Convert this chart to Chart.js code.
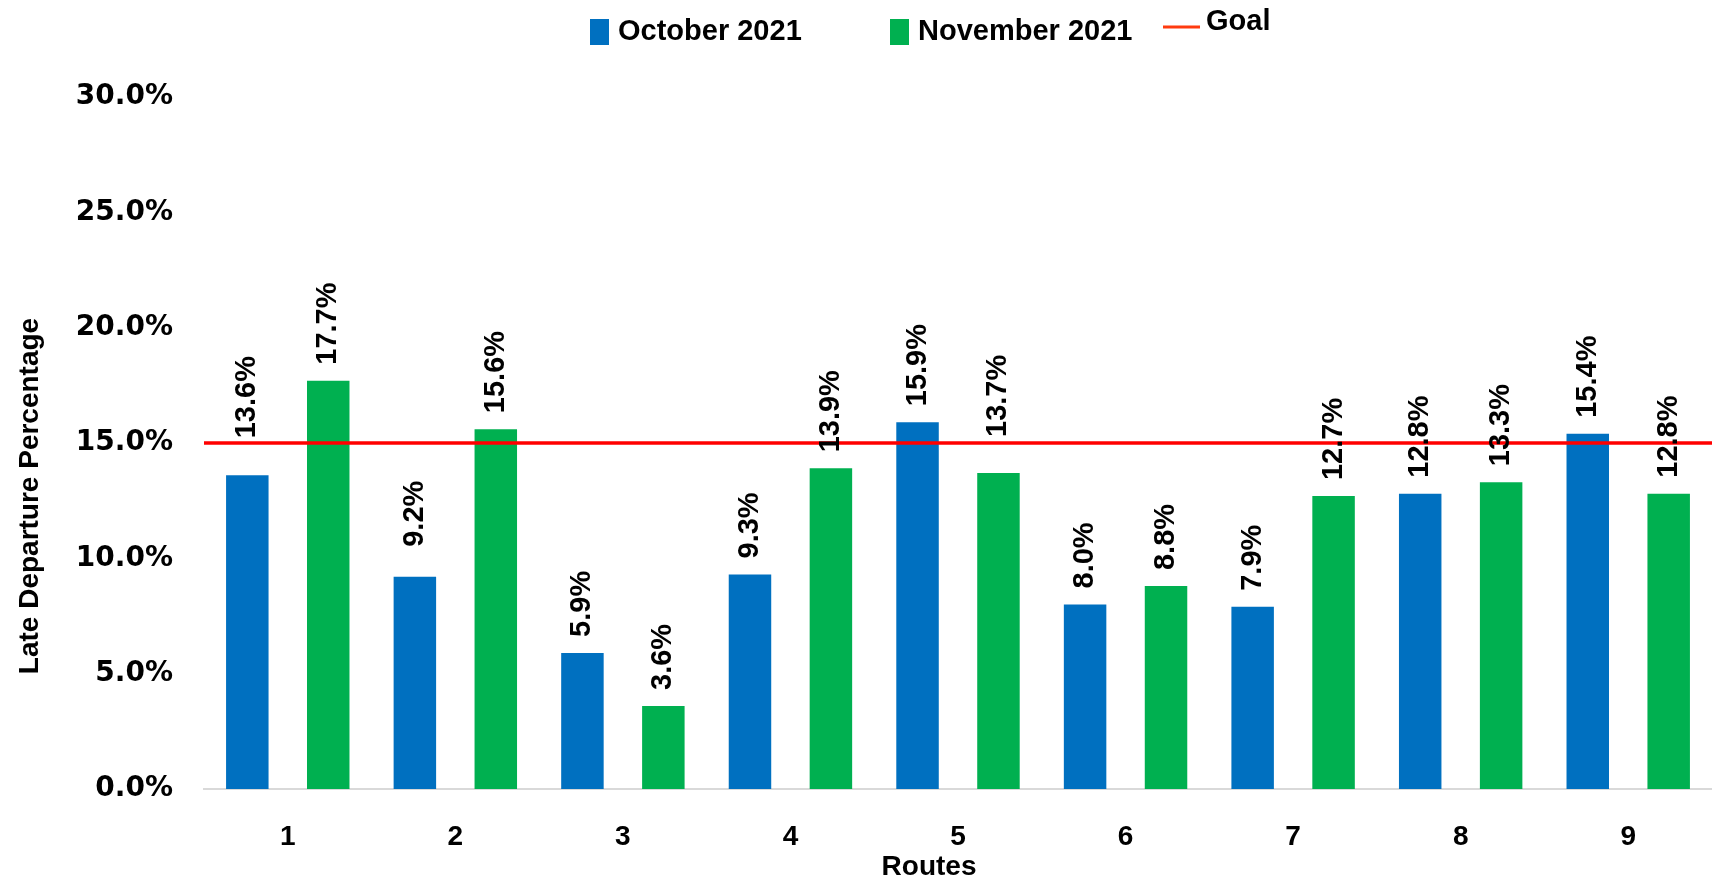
<!DOCTYPE html>
<html>
<head>
<meta charset="utf-8">
<script src="https://cdn.jsdelivr.net/npm/chart.js@4/dist/chart.umd.min.js"></script>
<style>
  html, body { margin: 0; padding: 0; background: #fff; }
  #wrap { width: 1712px; height: 882px; }
</style>
</head>
<body>
<div id="wrap"><canvas id="chart" width="1712" height="882"></canvas></div>
<script>
// Data
const routes = ['1', '2', '3', '4', '5', '6', '7', '8', '9'];
const october2021 = [13.6, 9.2, 5.9, 9.3, 15.9, 8.0, 7.9, 12.8, 15.4];
const november2021 = [17.7, 15.6, 3.6, 13.9, 13.7, 8.8, 12.7, 13.3, 12.8];
const goal = 15;
const yTicks = [0, 5, 10, 15, 20, 25, 30];

const LABEL_FONT = '"Liberation Sans", Arial, sans-serif';
const TICK_FONT = '"DejaVu Sans", Verdana, sans-serif';

// Goal line across the whole plot area, placed by the y scale
const goalLine = {
    id: 'goalLine',
    afterDatasetsDraw(chart) {
        const { ctx, chartArea } = chart;
        const y = chart.scales.y.getPixelForValue(goal);
        ctx.save();
        ctx.strokeStyle = '#FF0000';
        ctx.lineWidth = 3.5;
        ctx.beginPath();
        ctx.moveTo(chartArea.left, y);
        ctx.lineTo(chartArea.right, y);
        ctx.stroke();
        ctx.restore();
    }
};

// Rotated value labels above each bar (a few were hand-moved in the original)
const barLabels = {
    id: 'barLabels',
    afterDatasetsDraw(chart, args, opts) {
        const ctx = chart.ctx;
        const lift = opts.lift || {};
        ctx.save();
        ctx.font = 'bold 29px ' + LABEL_FONT;
        ctx.fillStyle = '#000';
        chart.data.datasets.forEach((ds, i) => {
            chart.getDatasetMeta(i).data.forEach((bar, j) => {
                const extra = lift[i + '-' + j] || 0;
                ctx.save();
                ctx.translate(bar.x, bar.y - 16 - extra);
                ctx.rotate(-Math.PI / 2);
                ctx.textAlign = 'left';
                ctx.textBaseline = 'middle';
                ctx.fillText(ds.data[j].toFixed(1) + '%', 0, 0);
                ctx.restore();
            });
        });
        ctx.restore();
    }
};

// Legend and axis titles laid out like the Excel original
const decorations = {
    id: 'decorations',
    afterDraw(chart) {
        const ctx = chart.ctx;
        const ds = chart.data.datasets;
        ctx.save();
        ctx.font = 'bold 29px ' + LABEL_FONT;
        ctx.textBaseline = 'middle';
        ctx.textAlign = 'left';

        // October
        ctx.fillStyle = ds[0].backgroundColor;
        ctx.fillRect(590, 19, 19, 26);
        ctx.fillStyle = '#000';
        ctx.fillText(ds[0].label, 618, 32);

        // November
        ctx.fillStyle = ds[1].backgroundColor;
        ctx.fillRect(890, 19, 19, 26);
        ctx.fillStyle = '#000';
        ctx.fillText(ds[1].label, 918, 32);

        // Goal
        ctx.strokeStyle = '#FF3B0F';
        ctx.lineWidth = 3;
        ctx.beginPath();
        ctx.moveTo(1163, 27);
        ctx.lineTo(1200, 27);
        ctx.stroke();
        ctx.fillText('Goal', 1206, 22);

        // Axis titles
        ctx.font = 'bold 28px ' + LABEL_FONT;
        ctx.textAlign = 'center';
        ctx.fillText('Routes', 929, 867);
        ctx.translate(30, 496);
        ctx.rotate(-Math.PI / 2);
        ctx.fillText('Late Departure Percentage', 0, 0);
        ctx.restore();
    }
};

new Chart(document.getElementById('chart'), {
    type: 'bar',
    data: {
        labels: routes,
        datasets: [
            {
                label: 'October 2021',
                data: october2021,
                backgroundColor: '#0070C0',
                categoryPercentage: 0.966,
                barPercentage: 0.525
            },
            {
                label: 'November 2021',
                data: november2021,
                backgroundColor: '#00B050',
                categoryPercentage: 0.966,
                barPercentage: 0.525
            }
        ]
    },
    options: {
        responsive: false,
        animation: false,
        layout: { padding: { top: 97, right: 0, bottom: 0, left: 0 } },
        plugins: {
            legend: { display: false },
            tooltip: { enabled: false },
            barLabels: { lift: { '0-0': 21, '0-1': 14, '1-4': 20 } }
        },
        scales: {
            x: {
                grid: { display: false },
                border: { display: true, color: '#D9D9D9', width: 2 },
                ticks: {
                    color: '#000',
                    padding: 23,
                    font: { family: LABEL_FONT, size: 28, weight: 'bold' }
                },
                afterFit(scale) { scale.height = 93; }
            },
            y: {
                min: yTicks[0],
                max: yTicks[yTicks.length - 1],
                grid: { display: false, drawTicks: false },
                border: { display: false },
                afterBuildTicks(scale) { scale.ticks = yTicks.map(v => ({ value: v })); },
                ticks: {
                    color: '#000',
                    padding: 31,
                    font: { family: TICK_FONT, size: 28, weight: 'bold' },
                    callback: v => v.toFixed(1) + '%'
                },
                afterFit(scale) { scale.width = 204; }
            }
        }
    },
    plugins: [goalLine, barLabels, decorations]
});
</script>
</body>
</html>
